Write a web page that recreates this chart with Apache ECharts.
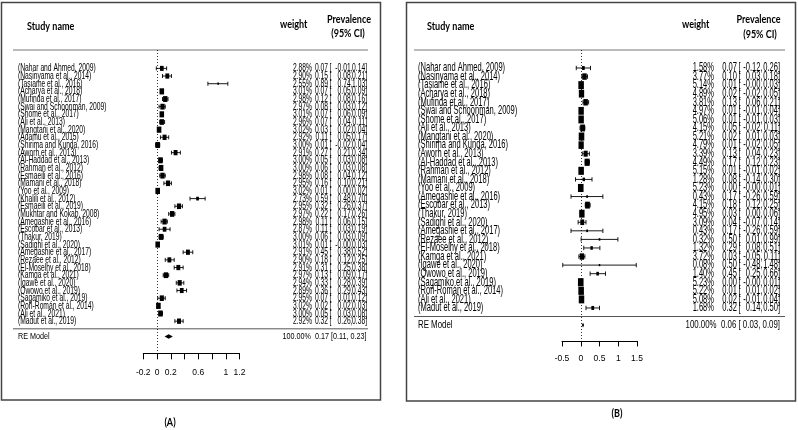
<!DOCTYPE html>
<html><head><meta charset="utf-8">
<script src="https://cdn.jsdelivr.net/npm/echarts@6/dist/echarts.min.js"></script>
<style>html,body{margin:0;padding:0;background:#fff}#c{width:798px;height:430px}</style>
</head><body><div id="c"></div>
<script>
// ---------- Panel A data ----------
const studiesA = ["Nahar and Ahmed, 2009","Nasinyama et al., 2014","Tasiame et al., 2016","Acharya et al., 2018","Mufinda et al., 2017","Swai and Schoonman, 2009","Shome et al., 2017","Ali et al., 2013","Mangtani et al., 2020","Adamu et al., 2015","Shirima and Kunda, 2016","Aworh et al., 2013","Al-Haddad et al., 2013","Rahman et al., 2012","Esmaeili et al., 2016","Mamani et al., 2018","Yoo et al., 2009","Khalili et al., 2012","Esmaeili et al., 2019","Mukhtar and Kokab, 2008","Amegashie et al., 2016","Escobar et al., 2013","Thakur, 2019","Sadighi et al., 2020","Amegashie et al., 2017","Rezaee et al., 2012","El-Moselhy et al., 2018","Kamga et al., 2021","Igawe et al., 2020","Owowo et al., 2019","Sagamiko et al., 2019","Roñ-Román et al., 2014","Ali et al., 2021","Madut et al., 2019"];
const weightsA = [2.88,2.90,2.55,3.01,2.98,2.97,3.01,2.96,3.02,2.92,3.00,2.91,3.00,3.00,2.98,2.95,3.02,2.73,2.95,2.97,2.98,2.87,3.00,3.01,2.91,2.90,2.91,2.97,2.94,2.89,2.95,3.02,3.00,2.92];
const estA = [0.07,0.15,0.89,0.07,0.12,0.08,0.07,0.07,0.03,0.11,0.01,0.27,0.05,0.06,0.08,0.16,0.01,0.59,0.32,0.22,0.11,0.11,0.06,0.01,0.45,0.18,0.31,0.13,0.33,0.36,0.07,0.02,0.05,0.32];
const loA = [-0.01,0.08,0.74,0.05,0.08,0.03,0.06,0.04,0.02,0.05,-0.02,0.21,0.03,0.03,0.04,0.10,0.00,0.48,0.26,0.17,0.06,0.03,0.03,-0,0.38,0.12,0.25,0.09,0.28,0.29,0.01,0.02,0.03,0.26];
const hiA = [0.14,0.21,1.03,0.09,0.16,0.12,0.09,0.11,0.04,0.17,0.04,0.34,0.08,0.08,0.12,0.21,0.02,0.70,0.37,0.26,0.15,0.19,0.09,0.03,0.52,0.25,0.38,0.17,0.39,0.43,0.12,0.03,0.08,0.38];
const reModelA = [0.17, 0.11, 0.23];   // estimate, lower, upper
const tickLabelsA = [-0.2, 0, 0.2, 0.6, 1, 1.2];

// ---------- Panel B data ----------
const studiesB = ["Nahar and Ahmed, 2009","Nasinyama et al., 2014","Tasiame et al., 2016","Acharya et al., 2018","Mufinda et al., 2017","Swai and Schoonman, 2009","Shome et al., 2017","Ali et al., 2013","Mangtani et al., 2020","Shirima and Kunda, 2016","Aworh et al., 2013","Al-Haddad et al., 2013","Rahman et al., 2012","Mamani et al., 2018","Yoo et al., 2009","Amegashie et al., 2016","Escobar et al., 2013","Thakur, 2019","Sadighi et al., 2020","Amegashie et al., 2017","Rezaee et al., 2012","El-Moselhy et al., 2018","Kamga et al., 2021","Igawe et al., 2020","Owowo et al., 2019","Sagamiko et al., 2019","Roñ-Román et al., 2014","Ali et al., 2021","Madut et al., 2019"];
const weightsB = [1.58,3.77,5.14,4.89,3.81,4.97,5.06,4.15,5.21,4.79,3.39,4.49,5.15,1.28,5.23,0.43,4.15,4.95,3.09,0.43,0.32,1.32,3.72,0.08,1.40,5.23,5.22,5.08,1.68];
const estB = [0.07,0.10,0.01,0.02,0.13,0.01,0.01,0.05,0.02,0.01,0.13,0.17,0.01,0.08,0.00,0.17,0.18,0.03,0.04,0.17,0.50,0.29,0.03,0.50,0.45,0.00,0.01,0.02,0.32];
const loB = [-0.12,0.03,-0,-0.02,0.06,-0.01,-0.01,-0.02,0.01,-0.02,0.04,0.12,-0.01,-0.14,-0,-0.26,0.12,0.00,-0.07,-0.26,0.01,0.08,-0.05,-0.48,0.25,-0,0.01,-0.01,0.14];
const hiB = [0.26,0.18,0.03,0.05,0.21,0.04,0.03,0.11,0.03,0.05,0.23,0.23,0.02,0.30,0.01,0.59,0.25,0.06,0.14,0.59,0.99,0.51,0.11,1.48,0.66,0.01,0.02,0.04,0.50];
const reModelB = [0.06, 0.03, 0.09];
const tickLabelsB = [-0.5, 0, 0.5, 1, 1.5];

// ---------- helpers ----------
const BODY = "'Liberation Sans',Arial,sans-serif";
const HEAD = "Lato,'Open Sans',sans-serif";
function fmt(v){ return (Object.is(v,-0) ? '-0.00' : v.toFixed(2)); }

function buildData(studies, w, e, lo, hi, re){
  const d = studies.map((s,i)=>[e[i], lo[i], hi[i], w[i], i, 0]);
  d.push([re[0], re[1], re[2], 100, studies.length + 1, 1]);
  return d;
}

function makeRender(P, studies, weights){
  const wmin = Math.min.apply(null, weights), wmax = Math.max.apply(null, weights);
  return function(params, api){
    const idx = api.value(4), type = api.value(5), w = api.value(3);
    const pE = api.coord([api.value(0), idx]);
    const pL = api.coord([api.value(1), idx]);
    const pH = api.coord([api.value(2), idx]);
    const y = pE[1];
    const ch = [];
    const txt = (x, t, align, size, sx, sy) => ({type:'text', x:x, y:y, scaleX: sx || P.sx, scaleY: sy || P.sy,
      style:{text:t, x:0, y:0, fill:'#000', font: (size||P.fs)+'px '+BODY, align:align, verticalAlign:'middle'}});
    if (type === 0){
      const cap = P.cap;
      ch.push({type:'line', shape:{x1:pL[0], y1:y, x2:pH[0], y2:y}, style:{stroke:'#000', lineWidth:0.9}});
      ch.push({type:'line', shape:{x1:pL[0], y1:y-cap, x2:pL[0], y2:y+cap}, style:{stroke:'#000', lineWidth:0.9}});
      ch.push({type:'line', shape:{x1:pH[0], y1:y-cap, x2:pH[0], y2:y+cap}, style:{stroke:'#000', lineWidth:0.9}});
      const s = P.smin + (w - wmin)/(wmax - wmin)*(P.smax - P.smin);
      const h = s * P.hr;
      ch.push({type:'rect', shape:{x:pE[0]-s/2, y:y-h/2, width:s, height:h}, style:{fill:'#000'}});
      const lo = api.value(1), hi = api.value(2), e = api.value(0);
      ch.push(txt(P.nameX, '(' + studies[idx] + ')', 'left'));
      ch.push(txt(P.wR, w.toFixed(2) + '%', 'right'));
      ch.push(txt(P.eR, fmt(e), 'right'));
      ch.push(txt(P.bL, '[', 'left'));
      ch.push(txt(P.loR, fmt(lo) + ',', 'right'));
      ch.push(txt(P.hiR, fmt(hi) + ']', 'right'));
    } else {
      const hh = P.dia;
      ch.push({type:'polygon', shape:{points:[[pL[0],y],[pE[0],y-hh],[pH[0],y],[pE[0],y+hh]]}, style:{fill:'#000'}});
      const ySep = api.coord([0, idx - 1])[1] + P.sepOff;
      ch.push({type:'line', shape:{x1:P.sepX1, y1:ySep, x2:P.sepX2, y2:ySep}, style:{stroke:'#555', lineWidth:1}});
      const yTop = params.coordSys.y;
      ch.push({type:'line', shape:{x1:P.sepX1, y1:yTop, x2:P.sepX2, y2:yTop}, style:{stroke:'#777', lineWidth:1}});
      ch.push(txt(P.nameX, 'RE Model', 'left', P.refs, 0.82, 1.1));
      ch.push(txt(P.reR, '100.00%  ' + fmt(api.value(0)) + ' [' + P.rePad + fmt(api.value(1)) + ', ' + fmt(api.value(2)) + ']', 'right', P.refs, 0.82, 1.1));
    }
    return {type:'group', children: ch};
  };
}

const PA = {nameX:18, wR:312, eR:328, bL:329.5, loR:352.5, hiR:367, fs:8.2, sx:0.82, sy:1.35, cap:2, smin:1.6, smax:4.6, hr:1.35,
  dia:2.3, sepOff:0, sepX1:13, sepX2:368, refs:8.8, reR:366.5, rePad:''};
const PB = {nameX:418, wR:714, eR:737, bL:738.5, loR:762.5, hiR:780, fs:9.2, sx:0.82, sy:1.3, cap:2.2, smin:1.5, smax:5.6, hr:1.45,
  dia:2.3, sepOff:0, sepX1:414, sepX2:785, refs:9.6, reR:780, rePad:' '};

const rowA = 7.66, rowB = 8.57;
const chart = echarts.init(document.getElementById('c'), null, {renderer:'canvas'});

function xAxisFor(grid, min, max, interval, labels, margin, tickLen){
  return {type:'value', gridIndex:grid, min:min, max:max, interval:interval, position:'bottom',
    axisLine:{show:true, onZero:false, lineStyle:{color:'#000', width:1}},
    axisTick:{show:true, length:tickLen, lineStyle:{color:'#000', width:1}},
    splitLine:{show:false},
    axisLabel:{margin:margin, color:'#000', fontSize:8.5, fontFamily:BODY,
      formatter: v => labels.some(t => Math.abs(t - v) < 1e-9) ? String(Math.round(v*10)/10) : ''}};
}

function head(x, y, t, align){
  return {type:'text', x:x, y:y, scaleX:0.86, style:{text:t, x:0, y:0, font:'bold 10.5px '+HEAD, fill:'#000', align:align, verticalAlign:'middle'}};
}

const option = {
  animation:false,
  backgroundColor:'#fff',
  grid:[
    {left:143.25, width:96.25, top:50, height:rowA*39.6},
    {left:562, width:75, top:50, height:rowB*33.95}
  ],
  xAxis:[
    xAxisFor(0, -0.2, 1.2, 0.2, tickLabelsA, 15, 6),
    xAxisFor(1, -0.5, 1.5, 0.5, tickLabelsB, 13, 5.5)
  ],
  yAxis:[
    {type:'value', gridIndex:0, inverse:true, min:-2.4, max:37.2, show:false},
    {type:'value', gridIndex:1, inverse:true, min:-2.1, max:31.85, show:false}
  ],
  series:[
    {type:'custom', xAxisIndex:0, yAxisIndex:0, clip:false, silent:true,
      renderItem: makeRender(PA, studiesA, weightsA),
      encode:{x:[0,1,2], y:4},
      data: buildData(studiesA, weightsA, estA, loA, hiA, reModelA),
      markLine:{silent:true, symbol:'none', label:{show:false}, animation:false,
        lineStyle:{color:'#000', type:[1,2], width:0.8}, data:[{xAxis:0}]}},
    {type:'custom', xAxisIndex:1, yAxisIndex:1, clip:false, silent:true,
      renderItem: makeRender(PB, studiesB, weightsB),
      encode:{x:[0,1,2], y:4},
      data: buildData(studiesB, weightsB, estB, loB, hiB, reModelB),
      markLine:{silent:true, symbol:'none', label:{show:false}, animation:false,
        lineStyle:{color:'#000', type:[1,2], width:0.8}, data:[{xAxis:0}]}}
  ],
  graphic:[
    {type:'rect', shape:{x:1.5, y:2.5, width:379, height:397.5}, style:{fill:null, stroke:'#444', lineWidth:1.5}, z:-1},
    {type:'rect', shape:{x:406.5, y:2.5, width:389, height:398.5}, style:{fill:null, stroke:'#444', lineWidth:1.5}, z:-1},
    head(27, 27, 'Study name', 'left'),
    head(280, 25, 'weight', 'left'),
    head(349, 20, 'Prevalence', 'center'),
    head(348, 34, '(95% CI)', 'center'),
    head(427, 27, 'Study name', 'left'),
    head(682, 25, 'weight', 'left'),
    head(758.5, 20, 'Prevalence', 'center'),
    head(760, 35, '(95% CI)', 'center'),
    head(170, 423, '(A)', 'center'),
    head(617, 414, '(B)', 'center')
  ]
};
chart.setOption(option);
</script></body></html>
